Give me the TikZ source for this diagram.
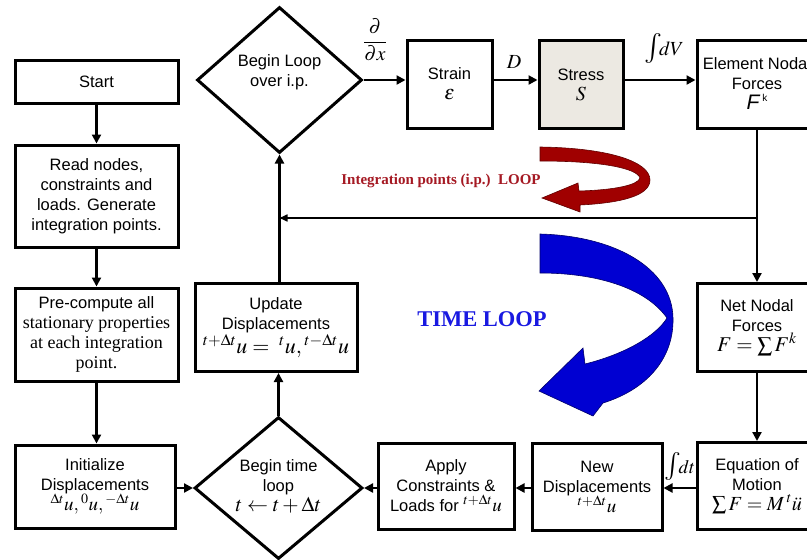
\documentclass[tikz,border=0pt]{standalone}
\usepackage{mathptmx}
\usepackage[no-math]{fontspec}
\setmainfont{Liberation Sans}
\newfontfamily\sr{Liberation Serif}
\usetikzlibrary{shapes.geometric,arrows.meta}
\definecolor{stressfill}{RGB}{236,233,226}
\definecolor{ipred}{RGB}{160,0,0}
\definecolor{iptxt}{RGB}{165,25,35}
\definecolor{tlblue}{RGB}{0,0,210}
\definecolor{tltxt}{RGB}{25,25,225}
\newcommand{\mth}{\fontsize{20}{22}\selectfont}
\begin{document}
\begin{tikzpicture}[x=1pt,y=-1pt,
  every node/.style={font=\fontsize{16.5}{20}\selectfont},
  box/.style={draw, line width=3pt, align=center, inner sep=2pt},
  dia/.style={draw, diamond, line width=3pt, inner sep=0pt, align=center},
  arr/.style={line width=2.2pt, -{Triangle[length=9pt,width=9pt]}},
  fbarr/.style={line width=1.6pt, -{Triangle[length=8pt,width=7pt]}}]
\useasboundingbox (0,0) rectangle (807,560);
\fill[white] (0,0) rectangle (807,560);

% boxes
\node[box, minimum width=163pt, minimum height=43pt] (start) at (96.5,81.5) {Start};
\node[box, minimum width=163pt, minimum height=102pt] (read) at (96.5,196) {Read nodes,\\constraints and\\loads. Generate\\integration points.};
\node[box, minimum width=163pt, minimum height=93pt] (pre) at (96.5,334.5) {Pre-compute all\\{\sr\fontsize{18}{21}\selectfont stationary properties}\\{\sr\fontsize{18}{21}\selectfont at each integration}\\{\sr\fontsize{18}{21}\selectfont point.}};
\node[box, minimum width=160pt, minimum height=83pt] (init) at (95,486.5) {Initialize\\Displacements\\{\fontsize{19}{24}\selectfont ${}^{\Delta t}u, {}^{0}u, {}^{-\Delta t}u$}};
\node[box, minimum width=162pt, minimum height=88pt] (upd) at (276,327.5) {Update\\Displacements\\{\fontsize{22}{27}\selectfont ${}^{t+\Delta t}u = \;{}^{t}u, {}^{t-\Delta t}u$}};
\node[box, minimum width=85pt, minimum height=88pt] (strain) at (449.5,84) {Strain\\{\mth $\varepsilon$}};
\node[box, fill=stressfill, minimum width=84pt, minimum height=88pt] (stress) at (581,84.5) {Stress\\{\mth $S$}};
\node[box, minimum width=120pt, minimum height=88pt] (enf) at (757,84) {Element Nodal\\Forces\\{\fontsize{21}{22}\selectfont\itshape F}\,\raisebox{8pt}{\fontsize{10}{10}\selectfont k}};
\node[box, minimum width=120pt, minimum height=88pt] (nnf) at (757,327.5) {Net Nodal\\Forces\\{\fontsize{21}{25}\selectfont $F = \sum F^{k}$}};
\node[box, minimum width=120pt, minimum height=87pt] (eq) at (757,486) {Equation of\\Motion\\{\fontsize{20}{24}\selectfont $\sum F = M\,{}^{t}\ddot u$}};
\node[box, minimum width=130pt, minimum height=87pt] (new) at (597,486.5) {New\\Displacements\\{\fontsize{19}{22}\selectfont ${}^{t+\Delta t}u$}};
\node[box, minimum width=136pt, minimum height=86pt] (apply) at (446,486) {Apply\\Constraints \&\\Loads for {\fontsize{19}{22}\selectfont ${}^{t+\Delta t}u$}};

% diamonds
\node[dia, minimum width=165pt, minimum height=146pt] (loop) at (279.5,80) {};
\node[align=center] (looptxt) at (279.5,72) {Begin Loop\\over i.p.};
\node[dia, minimum width=168pt, minimum height=142pt] (tl) at (278.5,488) {};
\node[align=center] (tltxt) at (278.5,486) {Begin time\\loop\\{\fontsize{21}{22}\selectfont $t \leftarrow t+\Delta t$}};

% connectors
\draw[arr] (start) -- (read);
\draw[arr] (read) -- (pre);
\draw[arr] (pre) -- (init.north -| pre.south);
\draw[arr] (init.east |- tl.west) -- (tl.west);
\draw[arr] (apply.west |- tl.east) -- (tl.east);
\draw[arr] (new.west |- tl.east) -- (apply.east |- tl.east);
\draw[arr] (eq.west |- tl.east) -- (new.east |- tl.east);
\draw[arr] (nnf) -- (eq);
\draw[arr] (enf) -- (nnf);
\draw[arr] (tl.north) -- (tl.north |- upd.south);
\draw[arr] (loop.south |- upd.north) -- (loop.south);
\draw[arr] (loop.east) -- (loop.east -| strain.west);
\draw[arr] (strain.east |- loop.east) -- (stress.west |- loop.east);
\draw[arr] (stress.east |- loop.east) -- (enf.west |- loop.east);
\coordinate (fbR) at (enf.south |- 0,218);
\draw[fbarr] (fbR) -- (fbR -| loop.south);

% connector labels
\node (ddx) at (375,40) {\mth $\displaystyle\frac{\partial}{\partial x}$};
\node (dlab) at (514,62) {\mth $D$};
\node (dvlab) at (664,48) {{\fontsize{30}{30}\selectfont$\int$}\!{\mth $dV$}};
\node (dtlab) at (680,466) {{\fontsize{28}{28}\selectfont$\int$}\!{\fontsize{19}{20}\selectfont $dt$}};

% loop arrows
\fill[ipred, draw=ipred!60!black, line width=0.6pt] (540,147) .. controls (610,148) and (650,162) .. (650,180) .. controls (650,196) and (620,203) .. (580,205) -- (580,212) -- (542,198) -- (578,183) -- (579,191) .. controls (615,190) and (638,185) .. (640,178) .. controls (637,168) and (600,161) .. (540,161) -- cycle;
\node[text=iptxt, font=\sr\bfseries\fontsize{15}{17}\selectfont] (iptext) at (441,181) {Integration points (i.p.)\ \ LOOP};

\fill[tlblue, draw=tlblue!50!black, line width=0.6pt] (540,234) .. controls (615,236) and (672,268) .. (673,318) .. controls (674,360) and (645,390) .. (603,403) -- (593,416) -- (539,391) -- (583,348) -- (585,364) .. controls (625,354) and (656,336) .. (667,318) .. controls (645,287) and (595,273) .. (540,273) -- cycle;
\node[text=tltxt, font=\sr\bfseries\fontsize{22.5}{24}\selectfont] (tltext) at (482,319) {TIME LOOP};
\end{tikzpicture}
\end{document}
